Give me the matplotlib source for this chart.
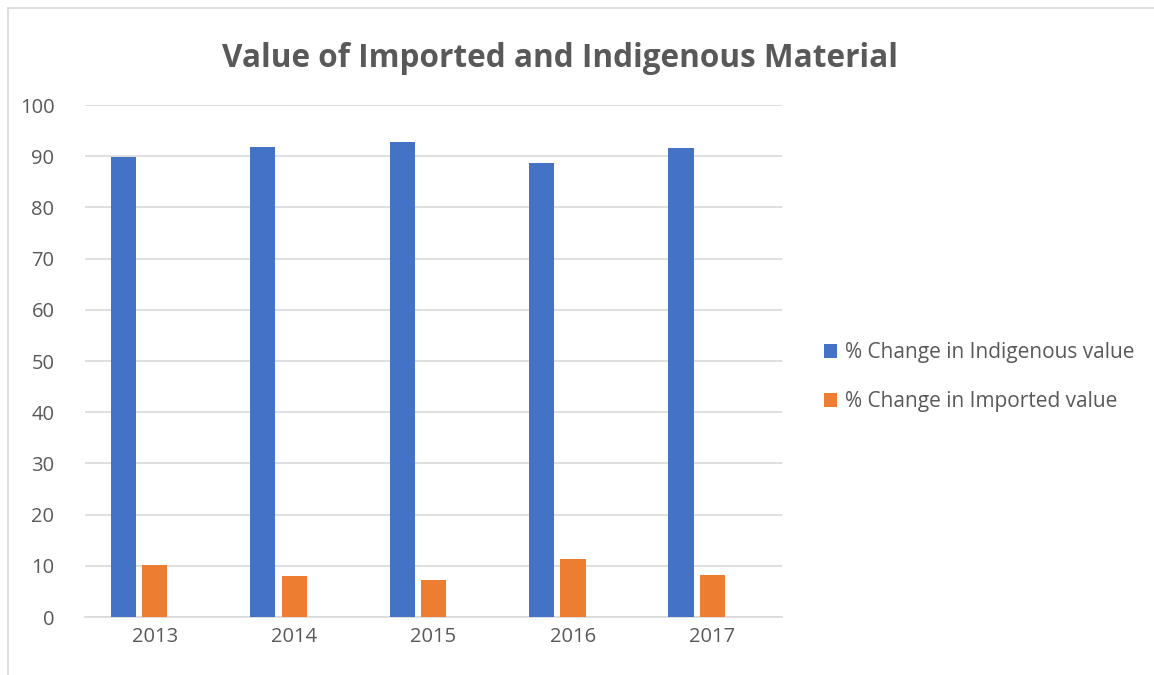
import matplotlib.pyplot as plt
import numpy as np
from matplotlib.lines import Line2D

# Дані з графіка
years = ["2013", "2014", "2015", "2016", "2017"]
indigenous = [89.8, 91.9, 92.7, 88.6, 91.7]
imported = [10.1, 8.1, 7.2, 11.3, 8.3]

BLUE = "#4472C4"
ORANGE = "#ED7D31"
TEXT = "#595959"
GRID = "#D9D9D9"

plt.rcParams["font.family"] = ["Open Sans", "DejaVu Sans"]

fig = plt.figure(figsize=(11.54, 6.75), dpi=100)
ax = fig.add_axes([0.0737, 0.0859, 0.604, 0.7585])

x = np.arange(len(years))
width = 0.18
ax.bar(x - 0.225, indigenous, width, color=BLUE, label="% Change in Indigenous value", zorder=3)
ax.bar(x, imported, width, color=ORANGE, label="% Change in Imported value", zorder=3)

ax.set_xlim(-0.5, len(years) - 0.5)
ax.set_ylim(0, 100)
ax.set_yticks(range(0, 101, 10))
ax.set_xticks(x)
ax.set_xticklabels(years)
ax.tick_params(axis="both", length=0, labelsize=14.5, colors=TEXT)
ax.tick_params(axis="x", pad=7)
ax.tick_params(axis="y", pad=22)
ax.grid(axis="y", color=GRID, linewidth=1.2, zorder=0)
for side in ["top", "right", "left"]:
    ax.spines[side].set_visible(False)
ax.spines["bottom"].set_color(GRID)
ax.spines["bottom"].set_linewidth(1.2)

fig.text(0.485, 0.913, "Value of Imported and Indigenous Material",
         ha="center", va="center", fontsize=22.7, fontweight="bold", color=TEXT)

fig.legend(loc="center left", bbox_to_anchor=(0.714, 0.441), frameon=False,
           borderpad=0, borderaxespad=0,
           fontsize=15, labelcolor=TEXT, handlelength=0.65, handleheight=0.65,
           handletextpad=0.35, labelspacing=1.35)

# Рамка діаграми
fig.add_artist(Line2D([8 / 1154, 8 / 1154], [0, 1 - 8 / 675], color=GRID, linewidth=1.2,
                      transform=fig.transFigure))
fig.add_artist(Line2D([8 / 1154, 1], [1 - 8 / 675, 1 - 8 / 675], color=GRID, linewidth=1.2,
                      transform=fig.transFigure))

fig.savefig("out.png", dpi=100)
